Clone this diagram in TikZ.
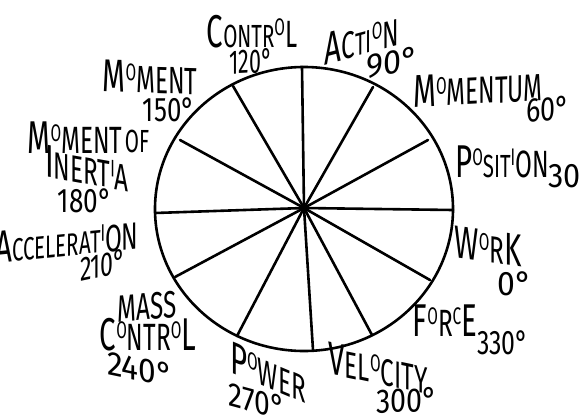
\documentclass[tikz,border=0pt]{standalone}
\usepackage{fontspec}
\usepackage{graphicx}
\setmainfont[FakeStretch=0.64]{Fira Sans}
\newfontfamily\digfont{Fira Sans}
\newcommand\hwB[1]{{\fontsize{46}{46}\selectfont #1}}
\newcommand\hwS[1]{{\fontsize{38}{38}\selectfont #1}}
\newcommand\hwM[1]{{\fontsize{32}{32}\selectfont #1}}
\newcommand\hwT[1]{\raisebox{0.3em}{\fontsize{24}{24}\selectfont #1}}
\newcommand\hwD[2][0.8]{\scalebox{#1}[1]{\digfont\fontsize{34}{34}\selectfont #2}}
\begin{document}
\begin{tikzpicture}[x=1pt,y=-1pt,
  lbl/.style={inner sep=0pt,anchor=base,font=\fontsize{38}{38}\selectfont},
  pie/.style={line width=2.6pt,line cap=round,line join=round}]
\useasboundingbox (0,0) rectangle (581,416);
\clip (0,0) rectangle (581,416);
% circle and spokes
\coordinate (c) at (304,208);
\draw[pie] (304,209) ellipse [x radius=149, y radius=142];
\coordinate (p0) at (453,210);
\coordinate (p30) at (428,140);
\coordinate (p60) at (373,87);
\coordinate (p90) at (302,67);
\coordinate (p120) at (233,86);
\coordinate (p150) at (180,140);
\coordinate (p180) at (155,213);
\coordinate (p210) at (175,277);
\coordinate (p240) at (237,336);
\coordinate (p270) at (313,350);
\coordinate (p300) at (372,335);
\coordinate (p330) at (430,280);
\foreach \p in {p0,p30,p60,p90,p120,p150,p180,p210,p240,p270,p300,p330}
  \draw[pie] (c) -- (\p);
% labels
\node[lbl] (control) at (252,47) {\hwB{C}\hwM{ONTR}\hwT{O}\hwS{L}};
\node[lbl,yslant=0.05] (d120) at (251,73) {\hwD[0.63]{120°}};
\node[lbl,yslant=0.27] (action) at (362,55) {\hwB{A}\hwS{C}\hwM{TI}\hwT{O}\hwS{N}};
\node[lbl,yslant=0.18] (d90) at (392,74) {\hwD[0.95]{90°}};
\node[lbl,yslant=0.05] (momentum) at (478,104) {\hwB{M}\hwT{O}\hwS{MENTUM}};
\node[lbl,yslant=0.09] (d60) at (548,121) {\hwD[0.79]{60°}};
\node[lbl,anchor=base west] (position) at (455,177) {\hwB{P}\hwT{O}\hwM{SIT}\hwT{I}\hwS{ON}\raisebox{-10pt}{\hwD[0.9]{30°}}};
\node[lbl,yslant=-0.14] (work) at (488,262) {\hwB{W}\hwT{O}\hwS{R}\hwB{K}};
\node[lbl] (d0) at (515,295) {\hwD[0.94]{0°}};
\node[lbl] (force) at (445,336) {\hwB{F}\hwT{O}\hwS{R}\hwT{C}\hwB{E}};
\node[lbl] (d330) at (503,354) {\hwD[0.73]{330°}};
\node[lbl,yslant=-0.21] (velocity) at (378,384) {\hwB{V}\hwS{EL}\hwT{O}\hwS{CITY}};
\node[lbl,yslant=0.05] (d300) at (407,412) {\hwD[0.84]{300°}};
\node[lbl,yslant=-0.42] (power) at (268,388) {\hwB{P}\hwT{O}\hwS{WER}};
\node[lbl,yslant=-0.27] (d270) at (257,413) {\hwD[0.83]{270°}};
\node[lbl,yslant=0.09] (mass) at (147,320) {\hwS{MASS}};
\node[lbl] (mcontrol) at (148,350) {\hwB{C}\hwT{O}\hwS{NTR}\hwT{O}\hwB{L}};
\node[lbl,yslant=-0.21] (d240) at (140,381) {\hwD[0.93]{240°}};
\node[lbl,yslant=0.1] (accel) at (67,256) {\hwB{A}\hwM{CCELERAT}\hwT{I}\hwS{ON}};
\node[lbl,yslant=0.21] (d210) at (103,277) {\hwD[0.68]{210°}};
\node[lbl] (moi) at (75,153) {\hwB{M}\hwT{O}\hwS{MENT}};
\node[lbl] (of) at (137,152) {\hwM{OF}};
\node[lbl,yslant=-0.18] (inertia) at (87,184) {\hwB{I}\hwS{NERT}\hwT{I}\hwS{A}};
\node[lbl] (d180) at (85,212) {\hwD[0.77]{180°}};
\node[lbl,yslant=-0.03] (moment) at (150,93) {\hwB{M}\hwT{O}\hwS{MENT}};
\node[lbl] (d150) at (169,121) {\hwD[0.76]{150°}};
\end{tikzpicture}
\end{document}
